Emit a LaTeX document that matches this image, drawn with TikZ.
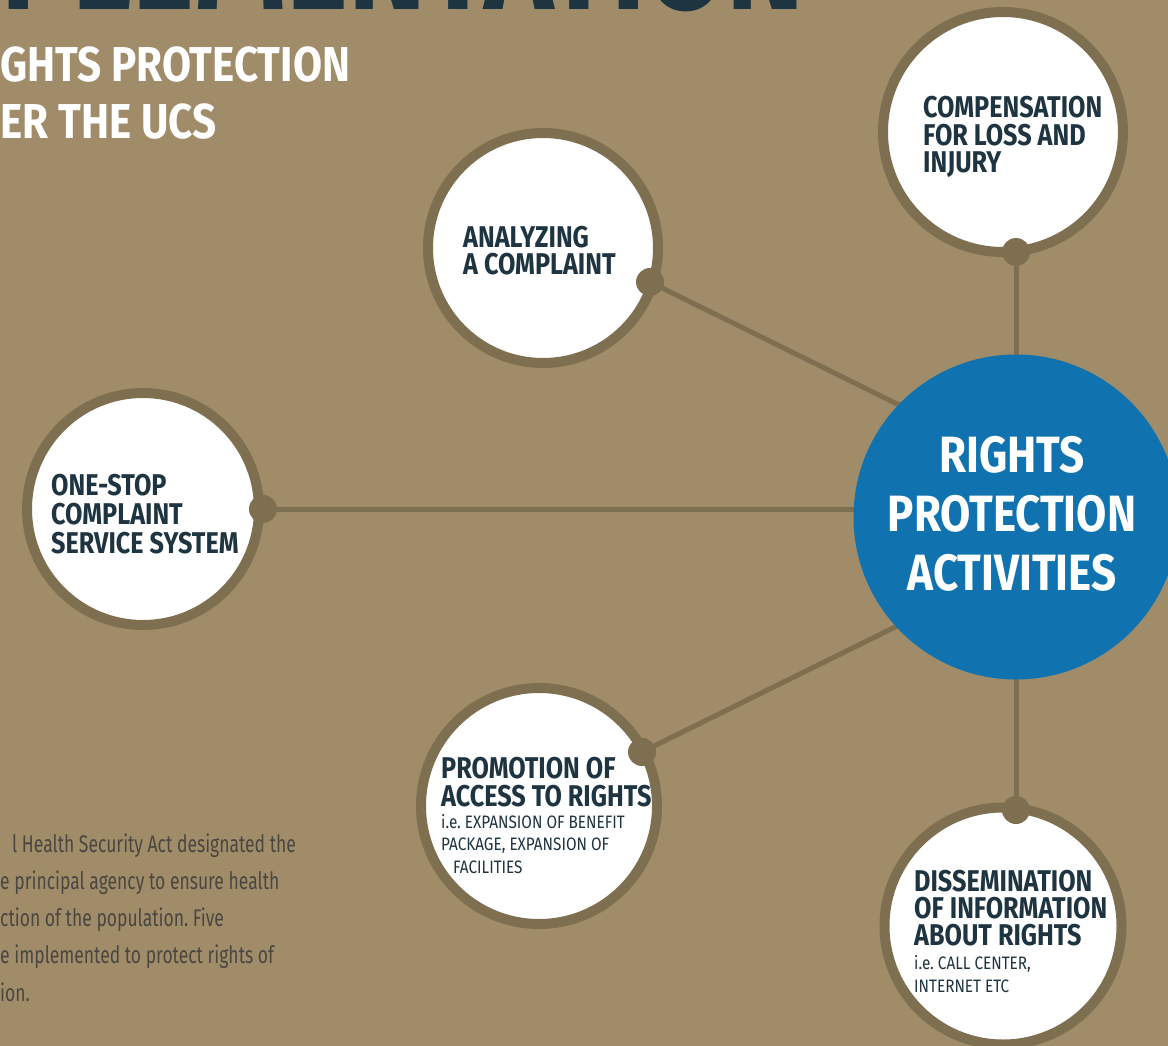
\documentclass[tikz,border=0pt]{standalone}
\usepackage{fontspec}
\newfontfamily\hdfont[FakeStretch=0.84]{Fira Sans}
\newfontfamily\bgfont[FakeStretch=0.86]{Fira Sans}
\newfontfamily\smfont[FakeStretch=0.85]{Fira Sans}
\newfontfamily\txfont[FakeStretch=0.73]{Fira Sans}
\definecolor{bg}{RGB}{161,140,106}
\definecolor{ring}{RGB}{125,111,80}
\definecolor{blueC}{RGB}{16,115,176}
\definecolor{ink}{RGB}{30,52,64}
\definecolor{bodytx}{RGB}{74,71,64}
\newcommand\ml[2]{\vtop{\baselineskip=#1\lineskiplimit=-1000pt\lineskip=0pt\halign{##\hfil\cr#2\crcr}}}
\newcommand\mlc[2]{\vtop{\baselineskip=#1\lineskiplimit=-1000pt\lineskip=0pt\halign{\hfil##\hfil\cr#2\crcr}}}
\pgfdeclarelayer{bgfill}
\pgfdeclarelayer{bglines}
\pgfsetlayers{bgfill,bglines,main}
\frenchspacing
\begin{document}
\begin{tikzpicture}[x=1pt,y=-1pt,
  bubble/.style={circle, draw=ring, line width=10pt, fill=white, inner sep=0pt, minimum size=#1},
  dotn/.style={circle, fill=ring, inner sep=0pt, minimum size=28pt},
  link/.style={draw=ring, line width=5pt},
  hd/.style={font=\hdfont\bfseries\fontsize{30}{30}\selectfont, text=ink, inner sep=0pt, anchor=base west},
  sm/.style={font=\smfont\fontsize{18}{20}\selectfont, text=ink, inner sep=0pt, anchor=base west},
  bigw/.style={font=\bgfont\bfseries\fontsize{51}{51}\selectfont, text=white, inner sep=0pt},
  subt/.style={font=\bgfont\bfseries\fontsize{49}{49}\selectfont, text=white, inner sep=0pt, anchor=base west},
  bodyt/.style={font=\txfont\fontsize{24}{24}\selectfont, text=bodytx, inner sep=0pt, anchor=base west}
]
\useasboundingbox (0,0) rectangle (1168,1046);
\clip (0,0) rectangle (1168,1046);
\begin{pgfonlayer}{bgfill}
\fill[bg] (0,0) rectangle (1168,1046);
\end{pgfonlayer}

% title and subtitle (cut by the frame)
\node[font=\hdfont\bfseries\fontsize{140}{140}\selectfont, text=ink, inner sep=0pt, anchor=base east] (title) at (805,10) {IMPLEMENTATION};
\node[subt] (sub) at (0,82) {\ml{57pt}{GHTS PROTECTION\cr ER THE UCS}};

% body text
\node[bodyt] (body) at (0,852) {\ml{37.3pt}{\kern12pt l Health Security Act designated the\cr e principal agency to ensure health\cr ction of the population. Five\cr e implemented to protect rights of\cr ion.}};

% bubbles
\node[bubble=230] (A) at (543,248) {};
\node[bubble=240] (C) at (1003,132) {};
\node[bubble=232] (O) at (143,509) {};
\node[bubble=236] (P) at (539,806) {};
\node[bubble=237] (D) at (1003,926) {};

% hub
\node[circle, fill=blueC, minimum size=325pt, inner sep=0pt] (B) at (1016,517) {};
\coordinate (hub) at (1122,515);

% dots
\node[dotn] (dA) at (650,282) {};
\node[dotn] (dC) at (1016,252) {};
\node[dotn] (dO) at (263,509) {};
\node[dotn] (dP) at (642,752) {};
\node[dotn] (dD) at (1016,810) {};

\begin{pgfonlayer}{bglines}
\draw[link] (dA.center) -- (hub);
\draw[link] (dP.center) -- (hub);
\draw[link] (dO.center) -- (dO.center -| B.center);
\draw[link] (dC.center) -- (dC.center |- B.center);
\draw[link] (dD.center) -- (dD.center |- B.center);
\end{pgfonlayer}

% texts
\node[hd] (tA) at (463,247) {\ml{28pt}{ANALYZING\cr A COMPLAINT}};
\node[hd] (tC) at (923,118) {\ml{27.5pt}{COMPENSATION\cr FOR LOSS AND\cr INJURY}};
\node[hd] (tO) at (51,495) {\ml{29pt}{ONE-STOP\cr COMPLAINT\cr SERVICE SYSTEM}};
\node[hd] (tP) at (441,778) {\ml{28pt}{PROMOTION OF\cr ACCESS TO RIGHTS}};
\node[sm] (sP) at (441,828) {\ml{22.5pt}{i.e. EXPANSION OF BENEFIT\cr PACKAGE, EXPANSION OF\cr \kern12pt FACILITIES}};
\node[hd] (tD) at (914,891) {\ml{27pt}{DISSEMINATION\cr OF INFORMATION\cr ABOUT RIGHTS}};
\node[sm] (sD) at (914,969) {\ml{23pt}{i.e. CALL CENTER,\cr INTERNET ETC}};
\node[bigw, anchor=base] (tB) at (1012,472) {\mlc{59pt}{RIGHTS\cr PROTECTION\cr ACTIVITIES}};
\end{tikzpicture}
\end{document}
